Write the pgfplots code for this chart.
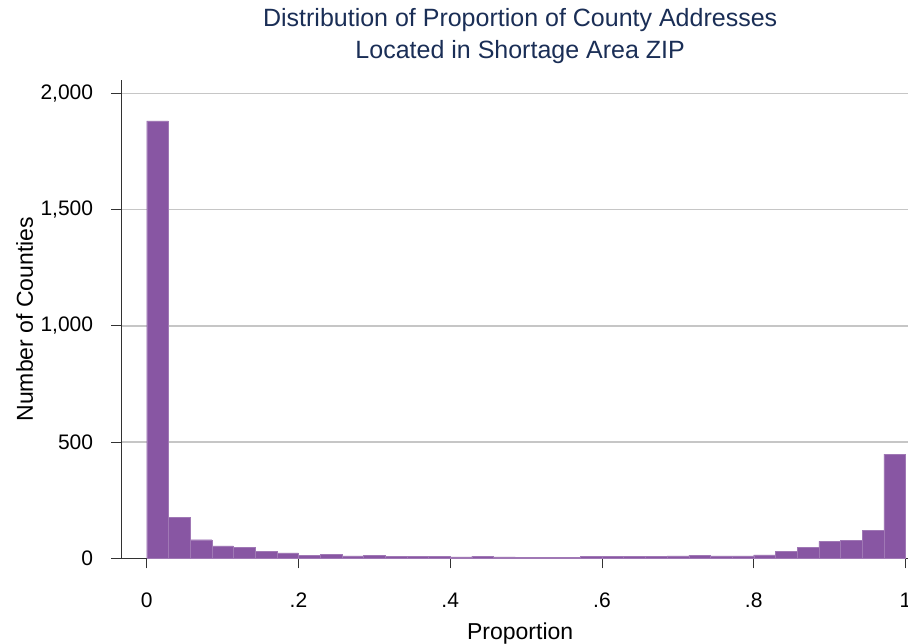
\documentclass[border=0pt]{standalone}
\usepackage{fontspec}
\setmainfont{Liberation Sans}
\usepackage{pgfplots}
\pgfplotsset{compat=1.18}

\definecolor{barpurple}{RGB}{136,86,163}
\definecolor{titlenavy}{RGB}{26,46,86}
\definecolor{gridgray}{RGB}{198,198,198}
\definecolor{axisgray}{RGB}{50,50,50}

\begin{document}
\begin{tikzpicture}
\begin{axis}[
  scale only axis,
  width=786.7bp, height=478.3bp,
  xmin=-0.0335, xmax=1.0033,
  ymin=0, ymax=2058,
  axis x line*=bottom, axis y line*=left,
  axis line style={axisgray, line width=0.9bp},
  tick style={axisgray, line width=0.9bp},
  tick align=outside,
  major tick length=10bp,
  xtick={0,0.2,0.4,0.6,0.8,1},
  xticklabels={0,.2,.4,.6,.8,1},
  ytick={0,500,1000,1500,2000},
  /pgf/number format/1000 sep={,},
  /pgf/number format/assume math mode=true,
  ymajorgrids,
  grid style={gridgray, line width=1.5bp},
  ticklabel style={font=\fontsize{21bp}{25bp}\selectfont, text=black},
  xticklabel style={anchor=base, inner sep=0pt, yshift=-38.7bp},
  yticklabel style={anchor=east, inner sep=0pt, xshift=-18bp},
  xlabel={Proportion},
  ylabel={Number of Counties},
  label style={font=\fontsize{23bp}{27bp}\selectfont},
  xlabel style={at={(axis description cs:0.507,-0.1708)}, anchor=base, inner sep=0pt},
  ylabel style={at={(axis description cs:-0.11224,0.5)}, anchor=base, inner sep=0pt},
  title={Distribution of Proportion of County Addresses\\Located in Shortage Area ZIP},
  title style={at={(axis description cs:0.507,1.02049)}, anchor=south, inner sep=0pt,
    align=center, text=titlenavy, font=\fontsize{25bp}{32bp}\selectfont},
]
% histogram, 35 bins of width 1/35
\addplot[ybar interval, fill=barpurple, draw=barpurple!80!white, line width=0.4bp]
  coordinates {
    (0,1882) (0.028571,175) (0.057143,80) (0.085714,53) (0.114286,46)
    (0.142857,29) (0.171429,23) (0.2,13) (0.228571,17) (0.257143,10)
    (0.285714,14) (0.314286,9) (0.342857,7) (0.371429,9) (0.4,6)
    (0.428571,9) (0.457143,6) (0.485714,5) (0.514286,4) (0.542857,4)
    (0.571429,8) (0.6,8) (0.628571,8) (0.657143,8) (0.685714,10)
    (0.714286,12) (0.742857,10) (0.771429,10) (0.8,15) (0.828571,29)
    (0.857143,47) (0.885714,73) (0.914286,76) (0.942857,121) (0.971429,448)
    (1,448)
  };
\end{axis}
\pgfresetboundingbox
\useasboundingbox (-121.3bp,-85.7bp) rectangle (786.7bp,558.3bp);
\end{tikzpicture}
\end{document}
